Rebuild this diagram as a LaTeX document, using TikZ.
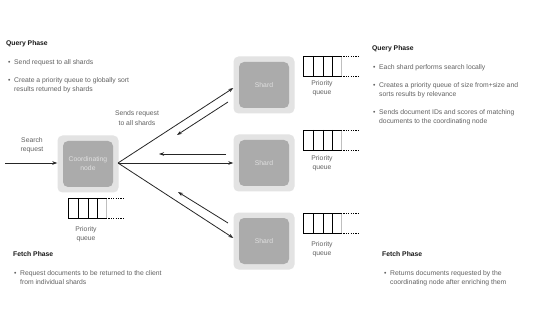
\documentclass[tikz,border=0pt]{standalone}
\usepackage{fontspec}
\setmainfont{Liberation Sans}
\usetikzlibrary{arrows.meta}
\begin{document}
\begin{tikzpicture}[x=1pt,y=-1pt,
  txt/.style={font=\fontsize{6.8}{9}\selectfont, text=black!62, anchor=base west, inner sep=0},
  ctxt/.style={font=\fontsize{6.8}{9.5}\selectfont, text=black!62, align=center, inner sep=0},
  head/.style={font=\fontsize{6.8}{9}\selectfont\bfseries, text=black!90, anchor=base west, inner sep=0},
  outerbox/.style={fill=black!11, rounded corners=5pt, minimum width=61pt, minimum height=57pt, inner sep=0},
  innerbox/.style={fill=black!33, rounded corners=5pt, minimum width=50pt, minimum height=46pt, inner sep=0,
                   text=black!12, font=\fontsize{6.8}{9}\selectfont, align=center},
  arr/.style={-{Stealth[length=5pt,width=3.5pt]}, line width=0.8pt, black!85},
  pq/.pic={
    \draw[black!25, line width=0.6pt] (38,0) -- (38,20);
    \draw[line width=0.8pt] (38,0) -- (0,0) -- (0,20) -- (38,20);
    \draw[line width=0.8pt] (10,0) -- (10,20) (20,0) -- (20,20) (29,0) -- (29,20);
    \draw[line width=0.8pt, dash pattern=on 1.2pt off 1.2pt] (38,0) -- (57,0) (38,20) -- (57,20);
  }
]
\useasboundingbox (0,0) rectangle (545,320);
\fill[white] (0,0) rectangle (545,320);

% coordinating node
\node[outerbox] (cno) at (88,164) {};
\node[innerbox] (cn) at (88,164) {Coordinating\\node};
\pic at (68,198) {pq};
\node[ctxt] (cq) at (86,234) {Priority\\queue};

% shards
\node[outerbox] (s1o) at (264,85) {};
\node[innerbox] (s1) at (264,85) {Shard};
\node[outerbox] (s2o) at (264,163) {};
\node[innerbox] (s2) at (264,163) {Shard};
\node[outerbox] (s3o) at (264,241) {};
\node[innerbox] (s3) at (264,241) {Shard};

\pic at (303,56) {pq};
\node[ctxt] (q1) at (322,88) {Priority\\queue};
\pic at (303,130) {pq};
\node[ctxt] (q2) at (322,163) {Priority\\queue};
\pic at (303,213) {pq};
\node[ctxt] (q3) at (322,249) {Priority\\queue};

% search request
\coordinate (sr) at (5,163);
\draw[arr] (sr) -- (cno.west |- sr);
\node[ctxt] (srl) at (32,145) {Search\\request};

% fan-out arrows
\coordinate (hub) at (118,163);
\draw[arr] (hub) -- ([yshift=-3pt]s1o.west);
\draw[arr] (hub) -- (s2o.west);
\draw[arr] (hub) -- ([yshift=3pt]s3o.west);

% returns
\coordinate (r1a) at (228,102); \coordinate (r1b) at (177,135);
\coordinate (r2a) at (226,154); \coordinate (r2b) at (159,154);
\coordinate (r3a) at (228,223); \coordinate (r3b) at (178,192);
\draw[arr] (r1a) -- (r1b);
\draw[arr] (r2a) -- (r2b);
\draw[arr] (r3a) -- (r3b);

\node[ctxt] (sendl) at (137,118) {Sends request\\to all shards};

% left texts
\node[head] (lq) at (6,46) {Query Phase};
\node[txt] at (8,65) {•};
\node[txt] at (14,65) {Send request to all shards};
\node[txt] at (8,83) {•};
\node[txt] at (14,83) {Create a priority queue to globally sort};
\node[txt] at (14,92) {results returned by shards};

\node[head] (lf) at (13,256) {Fetch Phase};
\node[txt] at (14,275) {•};
\node[txt] at (20,275) {Request documents to be returned to the client};
\node[txt] at (20,284) {from individual shards};

% right texts
\node[head] (rq) at (372,51) {Query Phase};
\node[txt] at (373,70) {•};
\node[txt] at (379,70) {Each shard performs search locally};
\node[txt] at (373,88) {•};
\node[txt] at (379,88) {Creates a priority queue of size from+size and};
\node[txt] at (379,97) {sorts results by relevance};
\node[txt] at (373,115) {•};
\node[txt] at (379,115) {Sends document IDs and scores of matching};
\node[txt] at (379,124) {documents to the coordinating node};

\node[head] (rf) at (382,256) {Fetch Phase};
\node[txt] at (384,275) {•};
\node[txt] at (390,275) {Returns documents requested by the};
\node[txt] at (390,284) {coordinating node after enriching them};
\end{tikzpicture}
\end{document}
